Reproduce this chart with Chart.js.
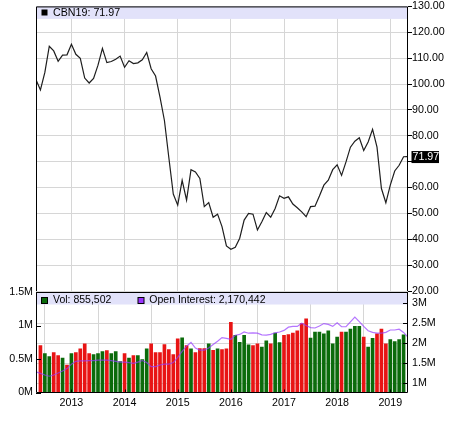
<!DOCTYPE html>
<html><head><meta charset="utf-8">
<script src="https://cdn.jsdelivr.net/npm/chart.js@4.4.1/dist/chart.umd.min.js"></script>
<style>
html,body{margin:0;padding:0;background:#fff;}
#wrap{position:relative;width:450px;height:433px;background:#fff;}
canvas{position:absolute;left:0;top:0;}
</style></head><body>
<div id="wrap"><canvas id="c2" width="450" height="433"></canvas><canvas id="c1" width="450" height="433"></canvas></div>
<script>
// ---------------- data ----------------
const SYMBOL = 'CBN19';
const LAST_PRICE = 71.97;
const LAST_DATE = [2019, 4, 26];
const LAST_VOL = 855502;
const LAST_OI = 2170442;
const START = [2012, 5];            // first monthly point (May 2012)
const X_RANGE = [[2012, 5], [2019, 5]];
const YEAR_TICKS = [2013, 2014, 2015, 2016, 2017, 2018, 2019];
const PRICE_TICKS = [20, 30, 40, 50, 60, 70, 80, 90, 100, 110, 120, 130];
const VOL_TICKS = [0, 500000, 1000000, 1500000];
const OI_TICKS = [1000000, 1500000, 2000000, 2500000, 3000000];

// monthly closes, May 2012 .. Apr 2019
const PRICE = [
  101.7, 97.7, 104.5, 114.6, 112.8, 108.8, 111.2, 111.3,
  115.4, 111.5, 109.9, 102.3, 100.4, 102.2, 107.3, 113.8, 108.3, 108.7, 109.6, 110.8,
  106.5, 109.0, 107.9, 108.2, 109.4, 112.2, 105.9, 103.1, 94.9, 85.9, 71.5, 57.5,
  53.2, 62.8, 55.1, 66.9, 66.0, 63.5, 52.6, 54.2, 48.5, 49.7, 44.9, 37.4,
  36.1, 36.9, 40.4, 47.4, 50.0, 49.7, 43.6, 46.8, 50.3, 48.5, 51.9, 56.8,
  55.8, 56.4, 53.6, 52.2, 50.6, 48.7, 52.6, 52.8, 56.7, 60.9, 62.8, 66.9,
  68.8, 64.7, 69.9, 75.6, 77.9, 79.2, 74.3, 77.6, 82.5, 75.6, 59.6, 54.1,
  60.9, 66.4, 68.6, 71.9
];
// monthly volume (millions), May 2012 .. Apr 2019
const VOLUME = [
  null, 0.70, 0.58, 0.535, 0.595, 0.55, 0.515, 0.41,
  0.58, 0.595, 0.65, 0.727, 0.58, 0.565, 0.58, 0.61, 0.627, 0.58, 0.61, 0.46,
  0.58, 0.515, 0.55, 0.55, 0.49, 0.652, 0.727, 0.595, 0.595, 0.715, 0.64, 0.565,
  0.80, 0.817, 0.70, 0.652, 0.595, 0.655, 0.655, 0.727, 0.63, 0.652, 0.64, 0.652,
  1.047, 0.852, 0.75, 0.852, 0.712, 0.70, 0.727, 0.677, 0.772, 0.727, 0.887, 0.745,
  0.852, 0.865, 0.887, 0.922, 1.027, 1.10, 0.812, 0.90, 0.90, 0.877, 0.92, 0.727,
  0.827, 0.90, 0.90, 0.947, 0.987, 0.987, 0.827, 0.677, 0.81, 0.877, 0.947, 0.727,
  0.79, 0.76, 0.79, 0.862
];
const VOL_DIR = [
  '', 'dn','up','up','dn','dn','up','dn',
  'up','dn','dn','dn','dn','up','up','up','dn','up','up','up',
  'dn','up','dn','up','up','up','dn','dn','dn','dn','dn','dn',
  'dn','up','dn','up','dn','dn','dn','up','dn','up','dn','dn',
  'dn','up','up','up','up','dn','dn','up','up','dn','up','up',
  'dn','dn','dn','dn','dn','dn','up','up','up','up','up','up',
  'up','dn','up','up','up','up','dn','up','up','dn','dn','dn',
  'up','up','up','up'
];
// open interest (millions), May 2012 .. Apr 2019
const OPEN_INTEREST = [
  1.29, 1.25, 1.21, 1.18, 1.21, 1.26, 1.31, 1.37,
  1.48, 1.55, 1.56, 1.56, 1.57, 1.57, 1.58, 1.58, 1.58, 1.57, 1.55, 1.53,
  1.53, 1.52, 1.50, 1.53, 1.57, 1.52, 1.42, 1.42, 1.46, 1.48, 1.48, 1.52,
  1.65, 1.80, 1.93, 2.02, 1.88, 1.83, 1.83, 1.88, 1.97, 2.05, 2.14, 2.12,
  2.10, 2.20, 2.22, 2.28, 2.25, 2.26, 2.25, 2.21, 2.20, 2.22, 2.26, 2.28,
  2.32, 2.40, 2.42, 2.42, 2.50, 2.44, 2.39, 2.38, 2.43, 2.49, 2.47, 2.42,
  2.51, 2.41, 2.41, 2.53, 2.65, 2.54, 2.42, 2.31, 2.27, 2.25, 2.25, 2.27,
  2.33, 2.33, 2.35, 2.27
];

// ---------------- helpers ----------------
function ym(y, m, d) { return y + (m - 1) / 12 + ((d || 1) - 1) / 365; }
function monthX(i) {
  const t = START[1] - 1 + i;
  return ym(START[0] + Math.floor(t / 12), (t % 12) + 1);
}
const XMIN = ym(X_RANGE[0][0], X_RANGE[0][1]);
const XMAX = ym(X_RANGE[1][0], X_RANGE[1][1]);
const LAST_X = ym(LAST_DATE[0], LAST_DATE[1], LAST_DATE[2]);
const FONT = '"Liberation Sans", Arial, sans-serif';
const TICK_FONT = {family: FONT, size: 10.7};
const GRID = '#d6d6d6';
const BAND = '#e2e2fa';
const RED = '#e81414';
const GREEN = '#0b6b0b';
const fmt = n => n.toLocaleString('en-US');

const priceData = PRICE.map((v, i) => ({x: monthX(i), y: v}));
priceData.push({x: LAST_X, y: LAST_PRICE});
const volData = [], volColors = [];
VOLUME.forEach((v, i) => {
  if (v == null) return;
  volData.push({x: monthX(i), y: v * 1e6});
  volColors.push(VOL_DIR[i] === 'up' ? GREEN : RED);
});
const oiData = OPEN_INTEREST.map((v, i) => ({x: monthX(i), y: v * 1e6}));
oiData.push({x: LAST_X, y: LAST_OI});

Chart.defaults.font.family = FONT;
Chart.defaults.color = '#000';

// ---------------- top chart (price) ----------------
const topPlugin = {
  id: 'topDeco',
  beforeDatasetsDraw(chart) {
    const {ctx, chartArea: a} = chart;
    ctx.save();
    ctx.fillStyle = BAND;
    ctx.fillRect(a.left, a.top, a.right - a.left, 12.5);
    ctx.fillStyle = '#000';
    ctx.fillRect(41.5, 9.5, 6, 6);
    ctx.font = '10.7px ' + FONT;
    ctx.textBaseline = 'middle';
    ctx.fillText(SYMBOL + ': ' + LAST_PRICE.toFixed(2), 53, 12.8);
    ctx.restore();
  },
  afterDraw(chart) {
    const {ctx, chartArea: a} = chart;
    ctx.save();
    ctx.strokeStyle = '#000';
    ctx.lineWidth = 1;
    ctx.beginPath();
    ctx.moveTo(a.left + 0.5, a.bottom);
    ctx.lineTo(a.left + 0.5, a.top + 0.5);
    ctx.lineTo(a.right - 0.5, a.top + 0.5);
    ctx.lineTo(a.right - 0.5, a.bottom);
    ctx.stroke();
    const y = chart.scales.y.getPixelForValue(LAST_PRICE);
    ctx.fillStyle = '#000';
    ctx.fillRect(a.right + 3.5, y - 5.5, 27.5, 12);
    ctx.fillStyle = '#fff';
    ctx.font = '10.7px ' + FONT;
    ctx.textBaseline = 'middle';
    ctx.fillText(LAST_PRICE.toFixed(2), a.right + 4.5, y + 0.8);
    ctx.restore();
  }
};

new Chart(document.getElementById('c1'), {
  type: 'line',
  data: {datasets: [{
    data: priceData, borderColor: '#1e1e1e', borderWidth: 1.2,
    pointRadius: 0, tension: 0, fill: false
  }]},
  options: {
    responsive: false, animation: false,
    layout: {padding: {left: 36, top: 5, right: 0, bottom: 433 - 291}},
    plugins: {legend: {display: false}, tooltip: {enabled: false}},
    scales: {
      x: {type: 'linear', min: XMIN, max: XMAX, offset: false,
        afterBuildTicks: s => { s.ticks = YEAR_TICKS.map(v => ({value: v})); },
        afterFit: s => { s.height = 0; },
        ticks: {display: false},
        grid: {color: GRID, drawTicks: false}, border: {display: false}},
      y: {position: 'right', min: 20, max: 130,
        afterBuildTicks: s => { s.ticks = PRICE_TICKS.map(v => ({value: v})); },
        afterFit: s => { s.width = 42; },
        ticks: {font: TICK_FONT, color: '#000', padding: 0,
          callback: v => Math.abs(v - LAST_PRICE) < 3 ? '' : v.toFixed(2)},
        grid: {color: GRID, tickColor: '#000', tickLength: 4}, border: {display: false}}
    }
  },
  plugins: [topPlugin]
});

// ---------------- bottom chart (volume / open interest) ----------------
const botPlugin = {
  id: 'botDeco',
  beforeDatasetsDraw(chart) {
    const {ctx, chartArea: a} = chart;
    ctx.save();
    ctx.fillStyle = BAND;
    ctx.fillRect(a.left, a.top, a.right - a.left, 12.5);
    ctx.strokeStyle = '#000';
    ctx.lineWidth = 1;
    ctx.fillStyle = GREEN;
    ctx.fillRect(41.5, 297.5, 6, 6);
    ctx.strokeRect(41.5, 297.5, 6, 6);
    ctx.fillStyle = '#9933ff';
    ctx.fillRect(138, 297.5, 6, 6);
    ctx.strokeRect(138, 297.5, 6, 6);
    ctx.fillStyle = '#000';
    ctx.font = '10.5px ' + FONT;
    ctx.textBaseline = 'middle';
    ctx.fillText('Vol: ' + fmt(LAST_VOL), 53, 300.6);
    ctx.fillText('Open Interest: ' + fmt(LAST_OI), 149.3, 300.6);
    ctx.restore();
  },
  afterDraw(chart) {
    const {ctx, chartArea: a, scales} = chart;
    ctx.save();
    ctx.strokeStyle = '#000';
    ctx.lineWidth = 1;
    ctx.beginPath();
    ctx.moveTo(a.left + 0.5, a.top);
    ctx.lineTo(a.left + 0.5, a.bottom);
    ctx.lineTo(a.right - 0.5, a.bottom);
    ctx.lineTo(a.right - 0.5, a.top);
    // inward tick marks
    VOL_TICKS.forEach(v => {
      const y = Math.round(scales.yv.getPixelForValue(v)) + 0.5;
      ctx.moveTo(a.left, y); ctx.lineTo(a.left + 5, y);
    });
    OI_TICKS.forEach(v => {
      const y = Math.round(scales.yo.getPixelForValue(v)) + 0.5;
      ctx.moveTo(a.right - 5, y); ctx.lineTo(a.right, y);
    });
    YEAR_TICKS.forEach(v => {
      const x = Math.round(scales.x.getPixelForValue(v)) + 0.5;
      ctx.moveTo(x, a.bottom); ctx.lineTo(x, a.bottom - 3);
    });
    ctx.stroke();
    ctx.lineWidth = 2.2;
    ctx.beginPath();
    ctx.moveTo(a.left, a.top);
    ctx.lineTo(a.right, a.top);
    ctx.stroke();
    ctx.restore();
  }
};

new Chart(document.getElementById('c2'), {
  type: 'bar',
  data: {datasets: [
    {type: 'line', data: oiData, yAxisID: 'yo', xAxisID: 'x', order: 0,
      borderColor: 'rgba(150,60,255,0.7)', borderWidth: 1.2, pointRadius: 0, tension: 0, fill: false},
    {type: 'bar', data: volData, yAxisID: 'yv', xAxisID: 'x', order: 1,
      backgroundColor: volColors, borderWidth: 0, barThickness: 3}
  ]},
  options: {
    responsive: false, animation: false,
    layout: {padding: {left: 0, top: 292, right: 0, bottom: 0}},
    plugins: {legend: {display: false}, tooltip: {enabled: false}},
    scales: {
      x: {type: 'linear', min: XMIN, max: XMAX, offset: false,
        afterBuildTicks: s => { s.ticks = YEAR_TICKS.map(v => ({value: v})); },
        afterFit: s => { s.height = 40.5; },
        ticks: {font: TICK_FONT, color: '#000', autoSkip: false, maxRotation: 0, padding: 4,
          callback: v => String(v)},
        grid: {color: GRID, drawTicks: false}, border: {display: false}},
      yv: {position: 'left', min: 0, max: 1500000,
        afterBuildTicks: s => { s.ticks = VOL_TICKS.map(v => ({value: v})); },
        afterFit: s => { s.width = 36; },
        ticks: {font: TICK_FONT, color: '#000', padding: 3, callback: v => (v / 1e6) + 'M'},
        grid: {display: false, drawTicks: false}, border: {display: false}},
      yo: {position: 'right', min: 775000, max: 3275000,
        afterBuildTicks: s => { s.ticks = OI_TICKS.map(v => ({value: v})); },
        afterFit: s => { s.width = 42; },
        ticks: {font: TICK_FONT, color: '#000', padding: 4, callback: v => (v / 1e6) + 'M'},
        grid: {color: GRID, drawTicks: false}, border: {display: false}}
    }
  },
  plugins: [botPlugin]
});
</script>
</body></html>
